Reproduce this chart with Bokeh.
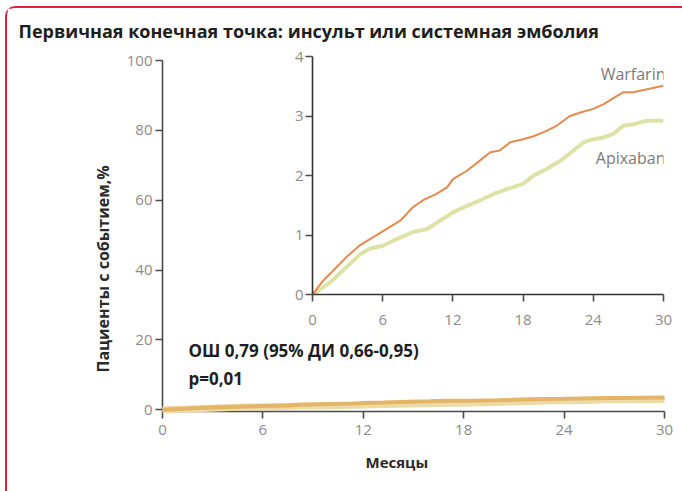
from bokeh.plotting import figure
from bokeh.models import Range1d, Label, FixedTicker, Title
from bokeh.layouts import column
from bokeh.embed import file_html
from bokeh.resources import INLINE

# ---- data ----
months_w = [0, 0.9, 1.5, 2.9, 4.0, 6.0, 7.5, 8.6, 9.5, 10.6, 11.5, 12.0, 13.2, 14.3, 15.2, 16.0,
            16.9, 18.0, 18.9, 20.0, 20.9, 22.0, 22.9, 24.0, 24.9, 25.7, 26.6, 27.4, 28.6, 30.0]
warfarin = [0, 0.23, 0.35, 0.63, 0.82, 1.06, 1.24, 1.47, 1.59, 1.69, 1.80, 1.94, 2.08, 2.25, 2.39, 2.42,
            2.56, 2.61, 2.66, 2.75, 2.84, 3.00, 3.06, 3.12, 3.20, 3.30, 3.40, 3.40, 3.45, 3.51]
months_a = [0, 1.5, 2.9, 4.1, 4.9, 6.0, 7.2, 8.6, 9.8, 10.9, 12.0, 13.2, 14.3, 15.5, 16.6, 18.0,
            18.9, 20.0, 21.2, 22.3, 23.2, 24.0, 24.9, 25.7, 26.6, 27.4, 28.6, 30.0]
apixaban = [0, 0.20, 0.46, 0.68, 0.77, 0.82, 0.93, 1.05, 1.10, 1.24, 1.38, 1.49, 1.58, 1.69, 1.77, 1.86,
            2.00, 2.11, 2.25, 2.42, 2.56, 2.61, 2.64, 2.70, 2.84, 2.86, 2.92, 2.92]
x_ticks = [0, 6, 12, 18, 24, 30]
main_y_ticks = [0, 20, 40, 60, 80, 100]
inset_y_ticks = [0, 1, 2, 3, 4]
series_names = ["Warfarin", "Apixaban"]
title_text = "Первичная конечная точка: инсульт или системная эмболия"
y_label_text = "Пациенты с событием,%"
x_label_text = "Месяцы"
stat_lines = ["ОШ 0,79 (95% ДИ 0,66-0,95)", "p=0,01"]

FONT = "Open Sans"
AX = "#4a4a4a"
TICK_TXT = "#8c8c8c"
WARF_C = "#e8894e"
APIX_C = "#dde2a6"


def style_axes(fig, ylabel_standoff, xlabel_standoff, tick_len):
    for ax in (fig.xaxis[0], fig.yaxis[0]):
        ax.axis_line_color = AX
        ax.axis_line_width = 1.6
        ax.major_tick_line_color = AX
        ax.major_tick_line_width = 1.6
        ax.major_tick_out = tick_len
        ax.major_tick_in = 0
        ax.minor_tick_line_color = None
        ax.major_label_text_color = TICK_TXT
        ax.major_label_text_font = FONT
        ax.major_label_text_font_size = "15px"
    fig.yaxis[0].major_label_standoff = ylabel_standoff
    fig.xaxis[0].major_label_standoff = xlabel_standoff
    fig.xgrid.visible = False
    fig.ygrid.visible = False
    fig.outline_line_color = None


# ---- main chart ----
p = figure(frame_width=502, frame_height=351,
           x_range=Range1d(0, 30), y_range=Range1d(-0.5, 100),
           min_border_left=155, min_border_top=52, min_border_right=18, min_border_bottom=80,
           output_backend="svg", toolbar_location=None)
p.xaxis.ticker = FixedTicker(ticks=x_ticks)
p.yaxis.ticker = FixedTicker(ticks=main_y_ticks)
style_axes(p, 3, 6, 7)

p.line(months_a, apixaban, line_color="#ecdba4", line_width=7, level="overlay")
p.line(months_w, warfarin, line_color="#e4b468", line_width=4, level="overlay")

p.add_layout(Title(text=y_label_text, align="left", offset=39, standoff=19,
                   text_font=FONT, text_font_style="bold", text_font_size="16px",
                   text_color="#2a2a2a"), "left")
p.add_layout(Title(text=x_label_text, align="left", offset=203, standoff=25,
                   text_font=FONT, text_font_style="bold", text_font_size="15px",
                   text_color="#2a2a2a"), "below")
p.add_layout(Label(x=1.55, y=17.0, text=stat_lines[0], text_font=FONT, text_font_style="bold",
                   text_font_size="17px", text_color="#1e1e1e", text_baseline="middle"))
p.add_layout(Label(x=1.55, y=8.95, text=stat_lines[1], text_font=FONT, text_font_style="bold",
                   text_font_size="17px", text_color="#1e1e1e", text_baseline="middle"))

# ---- title strip (an empty, transparent figure that only carries the title) ----
t = figure(frame_width=502, frame_height=1, x_range=Range1d(0, 1), y_range=Range1d(0, 1),
           x_axis_location=None, y_axis_location=None,
           min_border_left=155, min_border_right=18, min_border_top=39, min_border_bottom=0,
           output_backend="svg", toolbar_location=None)
t.background_fill_color = None
t.border_fill_color = None
t.outline_line_color = None
t.grid.visible = False
t.title = Title(text=title_text, align="left", offset=-144, standoff=10,
                text_font=FONT, text_font_style="bold", text_font_size="18px", text_color="#1e1e1e")
t.styles = {"position": "absolute", "left": "0px", "top": "0px"}

# ---- inset ----
q = figure(frame_width=351, frame_height=238,
           x_range=Range1d(0, 30), y_range=Range1d(0, 4),
           min_border_left=155, min_border_right=18, min_border_top=14, min_border_bottom=40,
           output_backend="svg", toolbar_location=None)
q.background_fill_color = None
q.border_fill_color = None
q.xaxis.ticker = FixedTicker(ticks=x_ticks)
q.yaxis.ticker = FixedTicker(ticks=inset_y_ticks)
style_axes(q, 2, 13, 7)
q.xaxis.axis_line_color = "#333333"
q.yaxis.axis_line_color = "#333333"

q.line(months_a, apixaban, line_color=APIX_C, line_width=4)
q.line(months_w, warfarin, line_color=WARF_C, line_width=2)
q.add_layout(Label(x=30, y=3.71, x_offset=2, text=series_names[0], text_font=FONT,
                   text_font_size="16px", text_color="#7a7a7a", text_align="right",
                   text_baseline="middle"))
q.add_layout(Label(x=30, y=2.29, x_offset=2, text=series_names[1], text_font=FONT,
                   text_font_size="16px", text_color="#7a7a7a", text_align="right",
                   text_baseline="middle"))
q.styles = {"position": "absolute", "left": "150px", "top": "34px"}

layout = column(p, q, t)
layout.margin = (6, 0, 0, 5)
layout.styles = {"border-top": "2px solid #e2203c", "border-left": "2px solid #e2203c",
                 "border-top-left-radius": "10px", "position": "relative"}

open("out.html", "w").write(file_html(layout, INLINE))
